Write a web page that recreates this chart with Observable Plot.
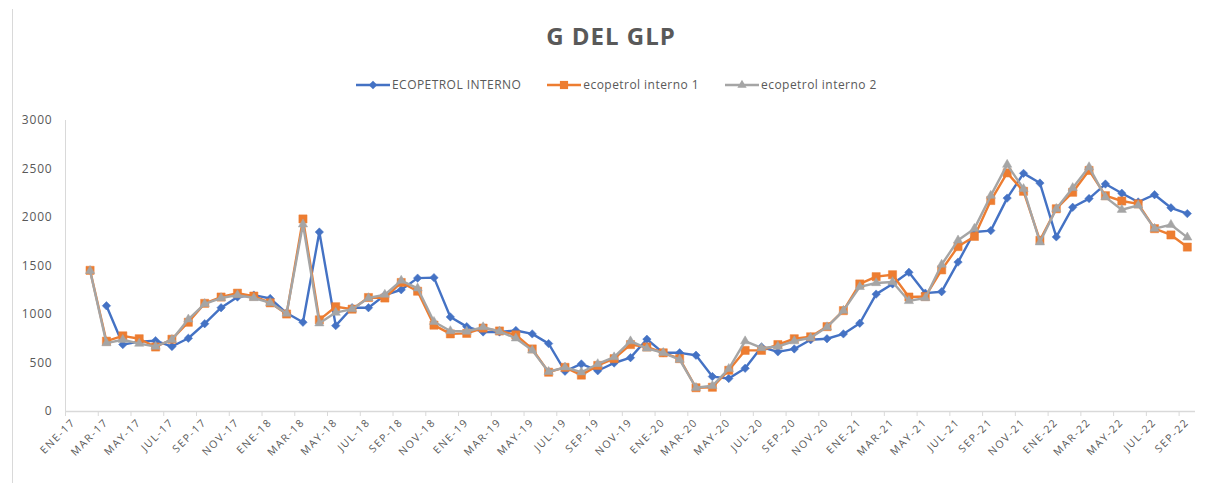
<!DOCTYPE html>
<html>
<head>
<meta charset="utf-8">
<script src="https://cdn.jsdelivr.net/npm/d3@7"></script>
<script src="https://cdn.jsdelivr.net/npm/@observablehq/plot@0.6"></script>
<style>
  html, body { margin: 0; padding: 0; background: #fff; }
  body { width: 1208px; height: 483px; position: relative; overflow: hidden; font-family: "Open Sans", sans-serif; }
  #frame { position: absolute; left: 12px; top: 9px; width: 1px; height: 474px; background: #d9d9d9; z-index: 5; }
  #title { position: absolute; left: 0; top: 24px; width: 1222px; text-align: center; font-size: 24px; line-height: 24px; font-weight: bold; color: #595959; letter-spacing: 1px; }
  #legend { position: absolute; left: 356px; top: 76px; display: flex; align-items: center; font-size: 12px; letter-spacing: 0.45px; color: #595959; }
  .item { display: flex; align-items: center; margin-right: 26px; }
  .item svg { margin-right: 2px; }
  #chart { position: absolute; left: 0; top: 100px; }
  g[aria-label="x-axis tick label"] text { letter-spacing: 1.6px; }
  g[aria-label="y-axis tick label"] text { letter-spacing: 0.8px; }
</style>
</head>
<body>
<div id="title">G DEL GLP</div>
<div id="legend"></div>
<div id="chart"></div>
<div id="frame"></div>
<script>
// ---- data ----
const monthAbbr = ["ENE","FEB","MAR","ABR","MAY","JUN","JUL","AGO","SEP","OCT","NOV","DIC"];
const years = ["17","18","19","20","21","22"];
const months = years.flatMap(y => monthAbbr.map(m => `${m}-${y}`)).slice(0, 69); // ENE-17 .. SEP-22

const seriesNames = ["ECOPETROL INTERNO", "ecopetrol interno 1", "ecopetrol interno 2"];
const seriesColors = ["#4472C4", "#ED7D31", "#A5A5A5"];

const ecopetrolInterno = [null,null,1090,690,720,730,670,755,905,1070,1180,1200,1165,1015,920,1850,885,1070,1070,1200,1255,1375,1380,975,875,820,820,835,800,700,415,490,420,500,555,745,605,605,580,360,340,445,665,615,645,740,750,800,910,1210,1315,1435,1220,1235,1540,1850,1865,2200,2455,2355,1800,2105,2195,2345,2250,2160,2235,2100,2040];
const ecopetrolInterno1 = [null,1455,725,780,750,665,745,920,1115,1180,1220,1190,1120,1005,1985,945,1080,1055,1175,1170,1330,1240,890,800,805,860,830,790,645,405,455,375,475,545,690,665,605,545,245,250,425,630,630,690,750,770,875,1040,1315,1390,1410,1180,1185,1460,1700,1805,2175,2460,2270,1765,2090,2260,2485,2225,2170,2140,1885,1820,1695];
const ecopetrolInterno2 = [null,1450,705,740,700,670,740,950,1110,1170,1200,1170,1120,1010,1930,910,1020,1055,1170,1205,1350,1270,925,830,825,870,825,755,630,410,455,405,490,560,725,650,605,535,245,265,440,725,655,670,725,760,870,1040,1285,1325,1335,1140,1170,1515,1765,1885,2225,2545,2295,1745,2090,2305,2520,2210,2080,2125,1885,1925,1795];

const yTicks = [0, 500, 1000, 1500, 2000, 2500, 3000];

// ---- build ----
const allSeries = [ecopetrolInterno, ecopetrolInterno1, ecopetrolInterno2];
const symbols = ["diamond2", "square2", "triangle2"];
const radii = [3.8, 5.2, 4.4];

const tables = allSeries.map(arr => months.map((m, i) => ({i, v: arr[i]})));
const labelIdx = months.map((m, i) => i).filter(i => i % 2 === 0);
const boundaries = labelIdx.map(i => i - 0.5);

const marks = [
  Plot.ruleX([-0.5], {stroke: "#d9d9d9", strokeWidth: 1}),
  Plot.ruleY([0], {stroke: "#d9d9d9", strokeWidth: 1.3}),
  Plot.axisY({ticks: yTicks, tickSize: 0, tickPadding: 13, tickFormat: d => String(d), fontSize: 12, color: "#595959", label: null}),
  Plot.axisX({ticks: boundaries, tickSize: 5, tickFormat: () => "", stroke: "#d9d9d9", label: null}),
  Plot.axisX({ticks: labelIdx, tickSize: 0, tickPadding: 9, tickRotate: -45, tickFormat: i => months[i], fontSize: 10.5, color: "#595959", label: null})
];
tables.forEach((t, k) => {
  marks.push(Plot.line(t, {x: "i", y: "v", stroke: seriesColors[k], strokeWidth: 2.4, strokeLinejoin: "round"}));
  marks.push(Plot.dot(t, {x: "i", y: "v", symbol: () => symbols[k], r: radii[k], fill: seriesColors[k], stroke: seriesColors[k], strokeWidth: 0.5}));
});

const chart = Plot.plot({
  width: 1208,
  height: 383,
  marginLeft: 65,
  marginRight: 13,
  marginTop: 20,
  marginBottom: 72,
  style: {fontFamily: "Open Sans, sans-serif", background: "transparent"},
  x: {type: "linear", domain: [-0.5, months.length - 0.5]},
  y: {domain: [0, 3000]},
  symbol: {type: "identity"},
  marks
});
document.getElementById("chart").appendChild(chart);

// ---- legend ----
const legend = d3.select("#legend");
seriesNames.forEach((name, k) => {
  const item = legend.append("div").attr("class", "item");
  const svg = item.append("svg").attr("width", 34).attr("height", 12);
  svg.append("line").attr("x1", 0).attr("x2", 34).attr("y1", 6).attr("y2", 6)
    .attr("stroke", seriesColors[k]).attr("stroke-width", 2.4);
  svg.append("path").attr("transform", "translate(17,6)")
    .attr("d", d3.symbol([d3.symbolDiamond2, d3.symbolSquare2, d3.symbolTriangle2][k], Math.PI * radii[k] * radii[k])())
    .attr("fill", seriesColors[k]);
  item.append("span").text(name);
});
</script>
</body>
</html>
